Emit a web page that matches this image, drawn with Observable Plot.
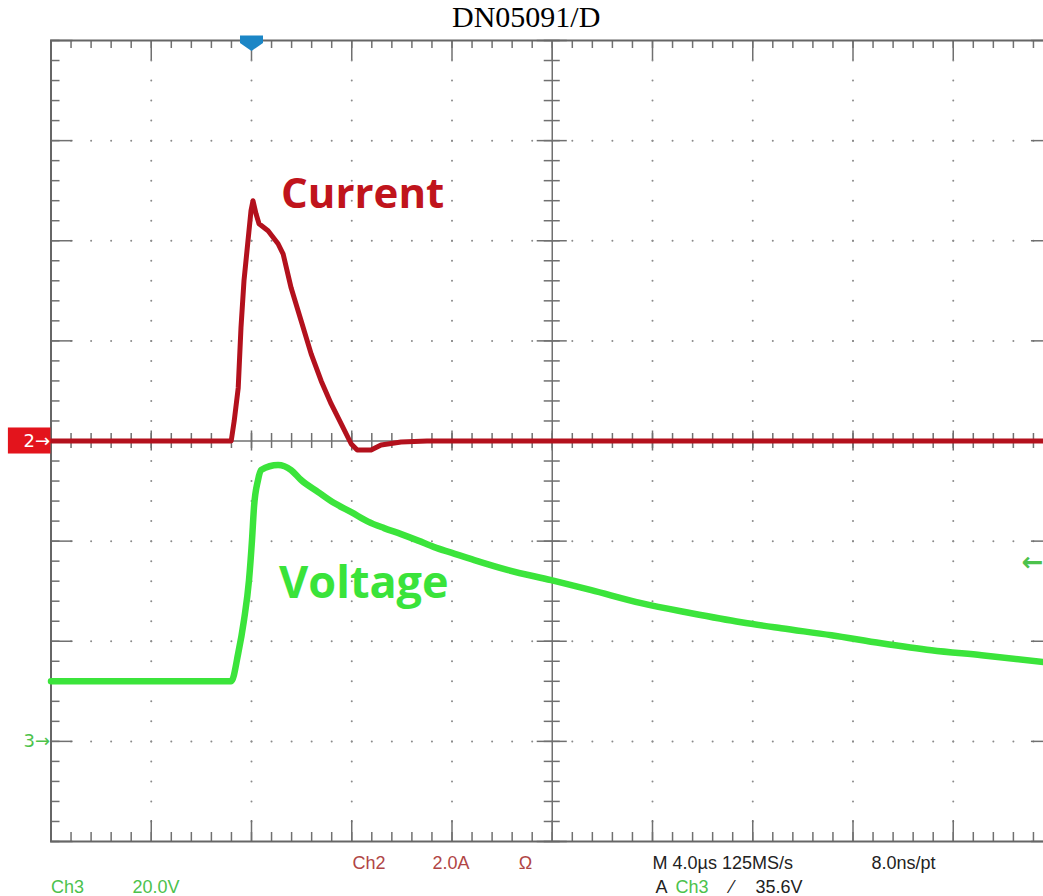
<!DOCTYPE html>
<html><head><meta charset="utf-8">
<script src="https://cdn.jsdelivr.net/npm/d3@7"></script>
<script src="https://cdn.jsdelivr.net/npm/@observablehq/plot@0.6"></script>
<style>
body{margin:0;background:#fff;overflow:hidden;}
#title{height:34px;font:30px "Liberation Serif",serif;line-height:34px;padding-left:452px;color:#000;white-space:nowrap;}
</style></head><body>
<div id="title">DN05091/D</div>
<div id="chart"></div>
<script>
// ---- Data (time in µs, current in A, voltage in V) ----
const currentTime = [-20, -12.81, -12.69, -12.53, -12.42, -12.30, -12.14, -12.02, -11.94, -11.82, -11.70, -11.34, -10.94, -10.74, -10.42, -10.02, -9.62, -9.22, -8.82, -8.42, -8.02, -7.78, -7.23, -6.83, -6.03, -5, 20];
const currentAmps = [0, 0, 0.40, 1.06, 2.26, 3.20, 4.00, 4.60, 4.80, 4.54, 4.34, 4.20, 3.94, 3.74, 3.06, 2.40, 1.74, 1.20, 0.74, 0.34, -0.06, -0.18, -0.18, -0.08, -0.02, 0, 0];
const voltageTime = [-20, -12.81, -12.53, -12.30, -12.10, -11.98, -11.90, -11.74, -11.62, -10.94, -10.42, -10.02, -9.34, -8.70, -8.02, -7.35, -6.71, -6.03, -5.35, -4.71, -4.03, -3.11, -1.76, -0.04, 1.56, 3.55, 5.55, 7.54, 9.14, 11.14, 13.13, 15.13, 17.13, 20];
const voltageVolts = [12.0, 12.0, 17.6, 24.2, 32.2, 40.2, 46.8, 52.2, 54.2, 55.2, 54.2, 52.2, 49.8, 47.6, 45.8, 43.9, 42.6, 41.4, 40.1, 38.8, 37.7, 36.2, 34.2, 32.2, 30.2, 27.6, 25.6, 23.8, 22.6, 21.2, 19.6, 18.2, 17.2, 15.6];

// Scope settings
const ampsPerDiv = 2.0;      // Ch2 2.0A
const voltsPerDiv = 20.0;    // Ch3 20.0V
const timePerDiv = 4.0;      // M 4.0µs
const ch2Offset = 0;         // ground marker "2" (divisions)
const ch3Offset = -3;        // ground marker "3" (divisions)
const triggerTime = -12;     // trigger position (µs)
const triggerLevel = 35.6;   // A Ch3 35.6V

// Readout labels
const readoutText = ["Ch2", "2.0A", "Ω", "M 4.0µs 125MS/s", "8.0ns/pt", "Ch3", "20.0V", "A", "Ch3", "⁄", "35.6V"];
const readoutTime = [-7.97, -4.78, -1.34, 4.0, 12.74, -20.0, -16.75, 4.12, 4.92, 7.11, 8.11];
const readoutRow = [1, 1, 1, 1, 1, 2, 2, 2, 2, 2, 2];
const readoutChannel = ["ch2", "ch2", "ch2", "main", "main", "ch3", "ch3", "main", "ch3", "main", "main"];

// Trace annotations
const annotationText = ["Current", "Voltage"];
const annotationTime = [-10.82, -10.9];
const annotationDiv = [2.33, -1.57];

// ---- Build ----
const current = currentTime.map((t, i) => ({t, a: currentAmps[i]}));
const voltage = voltageTime.map((t, i) => ({t, v: voltageVolts[i]}));
const readouts = readoutText.map((s, i) => ({s, t: readoutTime[i], row: readoutRow[i], ch: readoutChannel[i]}));
const readoutColor = {ch2: "#b04545", ch3: "#4cc24c", main: "#222"};
const rowDiv = {1: -4.27, 2: -4.51};

const xMin = -5 * timePerDiv, xMax = 5 * timePerDiv;
const minorX = d3.range(0, 51).map(i => xMin + i * timePerDiv / 5);
const majorX = d3.range(0, 11).map(i => xMin + i * timePerDiv);
const minorY = d3.range(0, 41).map(i => -4 + i * 0.2);
const majorY = d3.range(-4, 5);

const gridDots = [];
for (const y of majorY) if (Math.abs(y) !== 4 && y !== 0)
  for (const x of minorX) if (Math.abs(x) < xMax - 1e-6) gridDots.push({x, y});
for (const x of majorX) if (Math.abs(x) < xMax - 1e-6 && Math.abs(x) > 1e-6)
  for (const y of minorY) if (Math.abs(y) < 4 - 1e-6) gridDots.push({x, y});

const g = "#707070";
const pentagonDown = {
  draw(ctx, size) {
    const r = Math.sqrt(size / Math.PI);
    ctx.moveTo(-r, -0.7 * r);
    ctx.lineTo(r, -0.7 * r);
    ctx.lineTo(r, -0.05 * r);
    ctx.lineTo(0, 0.65 * r);
    ctx.lineTo(-r, -0.05 * r);
    ctx.closePath();
  }
};

const chart = Plot.plot({
  width: 1043,
  height: 862,
  marginTop: 6,
  marginBottom: 55,
  marginLeft: 50.5,
  marginRight: -10,
  x: {domain: [xMin, xMax], axis: null},
  y: {domain: [-4, 4], axis: null},
  style: {background: "#fff", fontFamily: "Liberation Sans, Arial, sans-serif", overflow: "hidden"},
  marks: [
    Plot.dot(gridDots, {x: "x", y: "y", r: 1, fill: "#8a8a8a", stroke: null}),
    // center lines
    Plot.ruleX([0], {y1: -4, y2: 4, stroke: g, strokeWidth: 1.5}),
    Plot.ruleY([0], {x1: xMin, x2: xMax, stroke: g, strokeWidth: 1.5}),
    Plot.ruleY(minorY, {y: d => d, x1: -0.32, x2: 0.32, stroke: g, strokeWidth: 1.5}),
    Plot.ruleY(majorY, {y: d => d, x1: -0.6, x2: 0.6, stroke: g, strokeWidth: 1.5}),
    Plot.ruleX(minorX, {x: d => d, y1: -0.075, y2: 0.075, stroke: g, strokeWidth: 1.5}),
    Plot.ruleX(majorX, {x: d => d, y1: -0.1, y2: 0.1, stroke: g, strokeWidth: 1.5}),
    // border ticks
    Plot.ruleX(minorX, {x: d => d, y1: 4, y2: 3.92, stroke: g, strokeWidth: 1.5}),
    Plot.ruleX(majorX, {x: d => d, y1: 4, y2: 3.8, stroke: g, strokeWidth: 1.5}),
    Plot.ruleX(minorX, {x: d => d, y1: -4, y2: -3.91, stroke: g, strokeWidth: 1.5}),
    Plot.ruleX(majorX, {x: d => d, y1: -4, y2: -3.79, stroke: g, strokeWidth: 1.5}),
    Plot.ruleY(minorY, {y: d => d, x1: xMin, x2: xMin + 0.36, stroke: g, strokeWidth: 1.5}),
    Plot.ruleY(majorY, {y: d => d, x1: xMin, x2: xMin + 0.88, stroke: g, strokeWidth: 1.5}),
    Plot.ruleY(minorY, {y: d => d, x1: xMax, x2: xMax - 0.36, stroke: g, strokeWidth: 1.5}),
    Plot.ruleY(majorY, {y: d => d, x1: xMax, x2: xMax - 0.88, stroke: g, strokeWidth: 1.5}),
    Plot.frame({stroke: "#666", strokeWidth: 2}),
    // traces
    Plot.line(voltage, {x: "t", y: d => d.v / voltsPerDiv + ch3Offset, stroke: "#3be43b", strokeWidth: 6.5, curve: "monotone-x", strokeLinejoin: "round"}),
    Plot.line(current, {x: "t", y: d => d.a / ampsPerDiv + ch2Offset, stroke: "#b3111d", strokeWidth: 5, curve: "linear", strokeLinejoin: "round"}),
    // annotations
    Plot.text(annotationText, {x: (d, i) => annotationTime[i], y: (d, i) => annotationDiv[i], text: d => d, textAnchor: "start", lineAnchor: "bottom",
      fontFamily: "Open Sans, sans-serif", fontWeight: "bold", fontSize: (d, i) => i === 0 ? 42 : 45, fill: (d, i) => i === 0 ? "#c0141c" : "#3ae33a"}),
    // ground markers
    Plot.rect([ch2Offset], {x1: xMin - 1.7, x2: xMin, y1: d => d - 0.13, y2: d => d + 0.13, fill: "#e3141c"}),
    Plot.text([ch2Offset], {x: xMin, y: d => d, text: () => "2→", textAnchor: "end", dx: -1, fill: "#fff", fontSize: 18, fontFamily: "DejaVu Sans", lineAnchor: "middle"}),
    Plot.text([ch3Offset], {x: xMin, y: d => d, text: () => "3→", textAnchor: "end", dx: -1, fill: "#4cc24c", fontSize: 18, fontFamily: "DejaVu Sans", lineAnchor: "middle"}),
    // trigger markers
    Plot.dot([triggerTime], {x: d => d, y: 4, dy: 3, r: 11.5, symbol: pentagonDown, fill: "#1b86c6", stroke: null}),
    Plot.text([triggerLevel], {x: xMax, y: d => d / voltsPerDiv + ch3Offset, text: () => "←", textAnchor: "end", dx: -10, fill: "#4cc24c", fontSize: 26, fontWeight: "bold", fontFamily: "DejaVu Sans", lineAnchor: "middle"}),
    // readouts
    Plot.text(readouts, {x: "t", y: d => rowDiv[d.row], text: "s", textAnchor: "start", lineAnchor: "bottom", fontSize: 18, fill: d => readoutColor[d.ch]})
  ]
});
document.getElementById("chart").appendChild(chart);
</script>
</body></html>
